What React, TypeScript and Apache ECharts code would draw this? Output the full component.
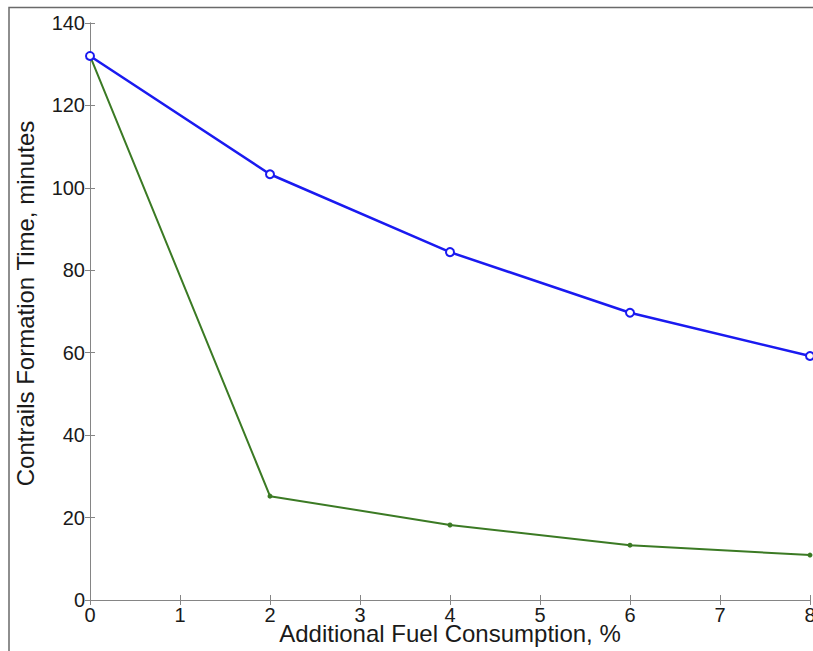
import React, { useEffect, useRef } from "react";
import * as echarts from "echarts";

const xValues = [0, 2, 4, 6, 8];
const blueSeries = [132, 103.3, 84.4, 69.7, 59.2];
const greenSeries = [132, 25.2, 18.2, 13.3, 10.9];
const xTicks = [0, 1, 2, 3, 4, 5, 6, 7, 8];
const yTicks = [0, 20, 40, 60, 80, 100, 120, 140];

const FONT = "Liberation Sans, Arial, Helvetica, sans-serif";

export default function App() {
  const ref = useRef<HTMLDivElement>(null);
  useEffect(() => {
    if (!ref.current) return;
    const chart = echarts.init(ref.current, null, { renderer: "svg" });
    const axisLine = { show: true, lineStyle: { color: "#858585", width: 1 } };
    const axisTick = { show: true, inside: true, length: 5, lineStyle: { color: "#858585", width: 1 } };
    const xMin = xTicks[0];
    const xMax = xTicks[xTicks.length - 1];
    const yMin = yTicks[0];
    const yMax = yTicks[yTicks.length - 1];
    chart.setOption({
      animation: false,
      backgroundColor: "#ffffff",
      textStyle: { fontFamily: FONT },
      grid: { left: 90, top: 23, right: 3, bottom: 51, containLabel: false, outerBoundsMode: "none" },
      graphic: [
        {
          type: "rect",
          shape: { x: 9, y: 7.5, width: 900, height: 700 },
          style: { fill: "none", stroke: "#6a6a6a", lineWidth: 1.5 },
          silent: true,
          z: -1,
        },
      ],
      xAxis: [
        {
          type: "value",
          min: xMin,
          max: xMax,
          interval: 1,
          position: "bottom",
          axisLine,
          axisTick,
          splitLine: { show: false },
          axisLabel: { color: "#1a1a1a", fontSize: 20, margin: 5, fontFamily: FONT, lineHeight: 20 },
          name: "Additional Fuel Consumption, %",
          nameLocation: "middle",
          nameGap: 33,
          nameMoveOverlap: false,
          nameTextStyle: { color: "#1a1a1a", fontSize: 24, fontFamily: FONT, verticalAlign: "middle", lineHeight: 24 },
        },
        {
          type: "value",
          min: xMin,
          max: xMax,
          interval: 1,
          position: "top",
          axisLine,
          axisTick,
          splitLine: { show: false },
          axisLabel: { show: false },
        },
      ],
      yAxis: [
        {
          type: "value",
          min: yMin,
          max: yMax,
          interval: 20,
          position: "left",
          axisLine,
          axisTick,
          splitLine: { show: false },
          axisLabel: { color: "#1a1a1a", fontSize: 20, margin: 5, fontFamily: FONT },
          name: "Contrails Formation Time, minutes",
          nameLocation: "middle",
          nameGap: 53,
          nameMoveOverlap: false,
          nameTextStyle: { color: "#1a1a1a", fontSize: 24, fontFamily: FONT, padding: [0, 0, 0, 16] },
        },
        {
          type: "value",
          min: yMin,
          max: yMax,
          interval: 20,
          position: "right",
          axisLine,
          axisTick,
          splitLine: { show: false },
          axisLabel: { show: false },
        },
      ],
      series: [
        {
          type: "line",
          data: xValues.map((x, i) => [x, blueSeries[i]]),
          symbol: "emptyCircle",
          symbolSize: 8,
          lineStyle: { color: "#1a1af0", width: 2.5 },
          itemStyle: { color: "#1a1af0", borderColor: "#1a1af0", borderWidth: 2 },
          clip: false,
          z: 3,
        },
        {
          type: "line",
          data: xValues.map((x, i) => [x, greenSeries[i]]),
          symbol: "circle",
          symbolSize: 5,
          lineStyle: { color: "#3b7a24", width: 2 },
          itemStyle: { color: "#3b7a24" },
          clip: false,
          z: 2,
        },
      ],
    });
    return () => chart.dispose();
  }, []);
  return (
    <div
      ref={ref}
      style={{ position: "absolute", left: 0, top: 0, width: 813, height: 651, background: "#fff" }}
    />
  );
}
